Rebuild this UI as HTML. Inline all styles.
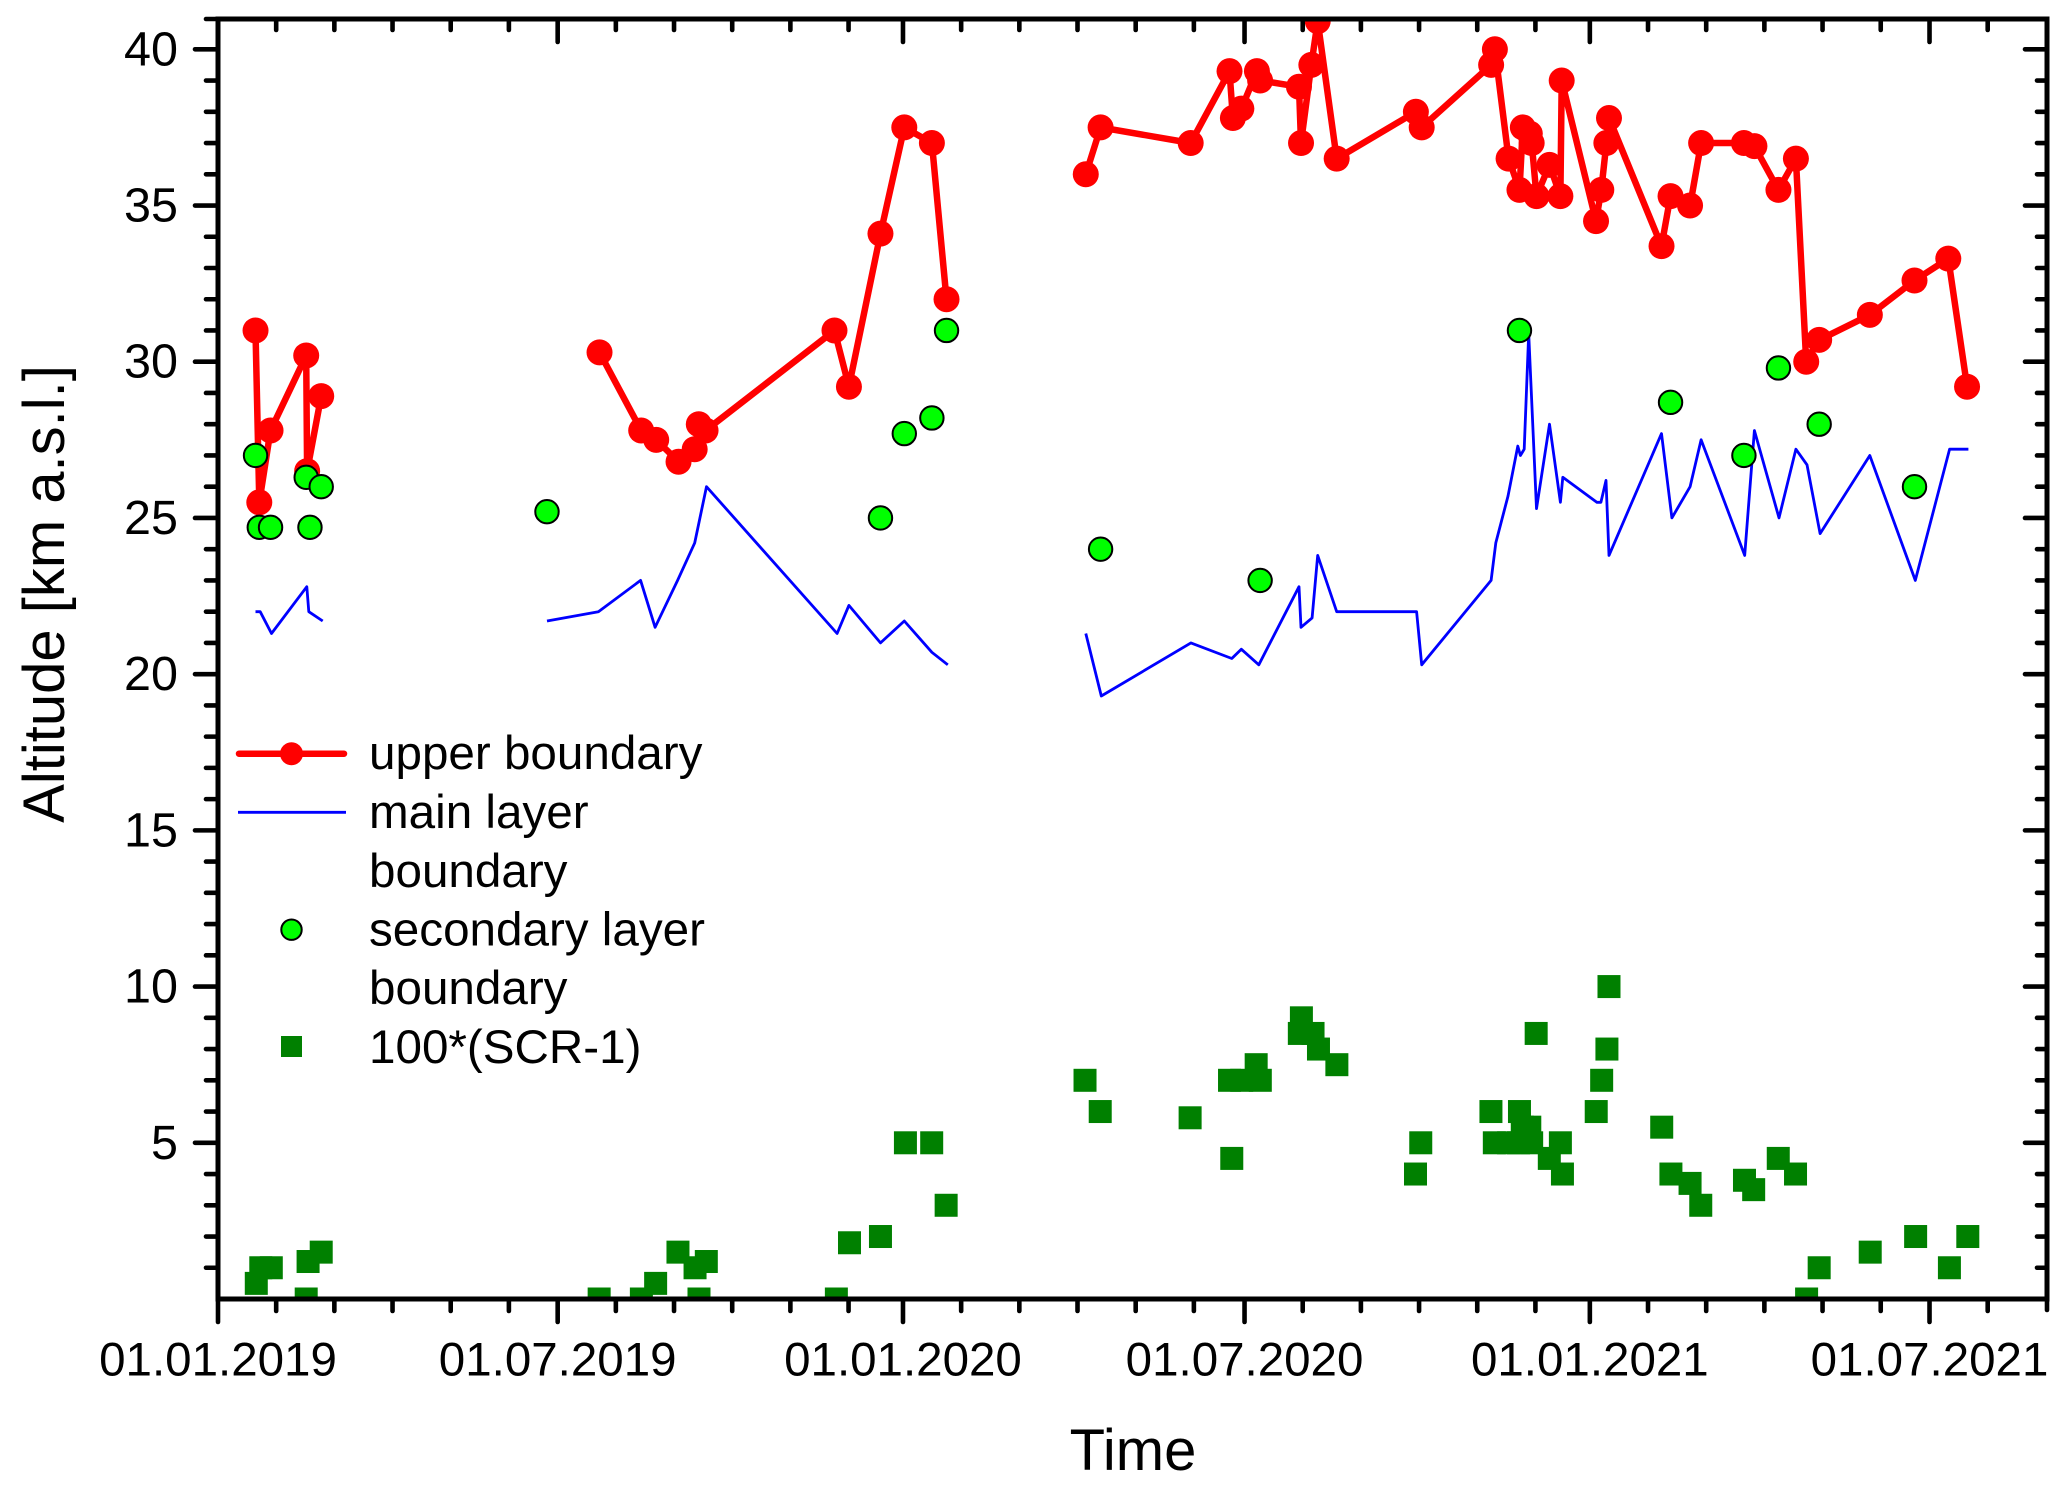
<!DOCTYPE html>
<html lang="en">
<head>
<meta charset="utf-8">
<title>Altitude over time</title>
<style>
html,body{margin:0;padding:0;background:#fff;}
svg{display:block;}
text{font-family:"Liberation Sans",Arial,sans-serif;fill:#000;}
</style>
</head>
<body>
<svg id="chart" xmlns="http://www.w3.org/2000/svg" width="2067" height="1488" viewBox="0 0 2067 1488">
  <defs>
    <clipPath id="plot-clip"><rect x="218" y="19" width="1829" height="1280"/></clipPath>
  </defs>
  <g id="series" clip-path="url(#plot-clip)"></g>
  <g id="axes"></g>
  <text transform="translate(64,594) rotate(-90)" text-anchor="middle" font-size="58">Altitude [km a.s.l.]</text>
  <text x="1133" y="1470" text-anchor="middle" font-size="58">Time</text>
  <g>
    <g>
      <line x1="239" y1="753.7" x2="344" y2="753.7" stroke="#ff0000" stroke-width="6.5" stroke-linecap="round"/>
      <circle cx="291.5" cy="753.7" r="11.5" fill="#ff0000"/>
      <text x="369" y="769" font-size="47.6">upper boundary</text>
    </g>
    <g>
      <line x1="238" y1="812.3" x2="346" y2="812.3" stroke="#0000ff" stroke-width="2.8"/>
      <text x="369" y="828" font-size="47.6">main layer</text>
      <text x="369" y="887" font-size="47.6">boundary</text>
    </g>
    <g>
      <circle cx="291.5" cy="929.7" r="10.2" fill="#00ff00" stroke="#000" stroke-width="2"/>
      <text x="369" y="945.7" font-size="47.6">secondary layer</text>
      <text x="369" y="1004" font-size="47.6">boundary</text>
    </g>
    <g>
      <rect x="281" y="1036" width="21" height="21" fill="#008000"/>
      <text x="369" y="1063" font-size="47.6">100*(SCR-1)</text>
    </g>
  </g>
</svg>
<script>
// Days since 01.01.2019; null separates observation campaigns.
const upperDays = [20,22,28,47,47.5,55,null,203.3,225.5,233.5,245.4,254,256.2,259.8,328.5,336.2,353,365.7,380.4,388.2,null,462.4,470.3,518.3,539,540.8,545.3,553.6,555.3,576,577.1,582.6,586,596.1,638.3,641.4,678.4,680.4,687.7,693.5,695.3,699,700,702.6,709.5,715.3,716,734.3,737.1,739.8,741.2,769.2,774,784.4,790.3,813.1,818.7,831.5,840.8,846.3,853.2,880.2,904,922,932];
const upperValues = [31,25.5,27.8,30.2,26.5,28.9,null,30.3,27.8,27.5,26.8,27.2,28,27.8,31,29.2,34.1,37.5,37,32,null,36,37.5,37,39.3,37.8,38.1,39.3,39,38.8,37,39.5,40.9,36.5,38,37.5,39.5,40,36.5,35.5,37.5,37.3,37,35.3,36.3,35.3,39,34.5,35.5,37,37.8,33.7,35.3,35,37,37,36.9,35.5,36.5,30,30.7,31.5,32.6,33.3,29.2];

const mainDays = [20,22.5,28.5,47.3,48.4,55.8,null,175.3,202.7,225.2,232.9,244.9,254,260.3,329.9,336.2,353,365.7,380.4,388.9,null,462.4,470.7,518.4,540.2,545.3,554.6,576,577.1,583,586,596.1,638.7,641.4,678.4,680.9,687.4,692.6,694,696,698.4,702.6,709.5,715.3,716.6,734.7,736.9,739.6,741.2,769.2,774.7,784.4,790.3,813.5,818.7,831.8,840.8,846.7,853.7,880.2,904.4,922.7,932.7];
const mainValues = [22,22,21.3,22.8,22,21.7,null,21.7,22,23,21.5,23,24.2,26,21.3,22.2,21,21.7,20.7,20.3,null,21.3,19.3,21,20.5,20.8,20.3,22.8,21.5,21.8,23.8,22,22,20.3,23,24.2,25.7,27.3,27,27.2,30.9,25.3,28,25.5,26.3,25.5,25.5,26.2,23.8,27.7,25,26,27.5,23.8,27.8,25,27.2,26.7,24.5,27,23,27.2,27.2];

const secondaryDays = [20,22,28,47,49,55,175.3,353,365.7,380.4,388.2,470.3,555.3,693.5,774,813.1,831.5,853.2,904];
const secondaryValues = [27,24.7,24.7,26.3,24.7,26,25.2,25,27.7,28.2,31,24,23,31,28.7,27,29.8,28,26];

const scrDays = [20.4,22.8,28.4,47,48,55,203.1,225.6,233.2,245.1,254.2,256.3,260.2,329.5,336.5,353,366.3,380.3,388,462,470.1,518,539,540.2,545.5,553.2,555.4,576.2,577.3,583.5,586.4,596.2,638.1,640.9,678.3,680.1,687.7,693.5,693,695,699,700,702.4,709.4,715.3,716.4,734.4,737.3,740.1,741.2,769.3,774.2,784.4,790.1,813.4,818.3,831.4,840.6,846.5,853.2,880.4,904.6,922.6,932.4];
const scrValues = [0.5,1,1,0,1.2,1.5,0,0,0.5,1.5,1,0,1.2,0,1.8,2,5,5,3,7,6,5.8,7,4.5,7,7.5,7,8.5,9,8.5,8,7.5,4,5,6,5,5,6,5,5.5,5.5,5,8.5,4.5,5,4,6,7,8,10,5.5,4,3.7,3,3.8,3.5,4.5,4,0,1,1.5,2,1,2];

const xMajorDays = [0,181,365,547,731,912];
const xTickLabels = ["01.01.2019","01.07.2019","01.01.2020","01.07.2020","01.01.2021","01.07.2021"];
const xDomain = [0,974.6];
const yDomain = [0,40.97];
const yMajorTicks = [5,10,15,20,25,30,35,40];
const yTickLabels = ["5","10","15","20","25","30","35","40"];

const SVGNS = "http://www.w3.org/2000/svg";
const PL = 218, PR = 2047, PT = 19, PB = 1299;
function xScale(d){ return PL + (d - xDomain[0]) * (1829 / (xDomain[1] - xDomain[0])); }
function yScale(v){ return PB - (v - yDomain[0]) * (1280 / (yDomain[1] - yDomain[0])); }
function mk(tag, attrs, parent){
  const el = document.createElementNS(SVGNS, tag);
  for (const k in attrs) el.setAttribute(k, attrs[k]);
  parent.appendChild(el);
  return el;
}
const seriesG = document.getElementById("series");
const axesG = document.getElementById("axes");

function drawLine(days, vals, color, width, name){
  let seg = [];
  const flush = () => {
    if (seg.length) {
      const el = mk("polyline", {points: seg.join(" "), fill: "none", stroke: color, "stroke-width": width, "stroke-linejoin": "round"}, seriesG);
      
      
    }
    seg = [];
  };
  days.forEach((d, i) => {
    if (d === null || vals[i] === null) flush();
    else seg.push(xScale(d).toFixed(1) + "," + yScale(vals[i]).toFixed(1));
  });
  flush();
}

drawLine(upperDays, upperValues, "#ff0000", 6.5, "upper-boundary-line");
upperDays.forEach((d, i) => {
  if (d === null) return;
  const el = mk("circle", {cx: xScale(d), cy: yScale(upperValues[i]), r: 13, fill: "#ff0000"}, seriesG);
  
  
});
drawLine(mainDays, mainValues, "#0000ff", 2.8, "main-layer-boundary-line");
secondaryDays.forEach((d, i) => {
  const el = mk("circle", {cx: xScale(d), cy: yScale(secondaryValues[i]), r: 11.7, fill: "#00ff00", stroke: "#000", "stroke-width": 2}, seriesG);
  
  
});
scrDays.forEach((d, i) => {
  const el = mk("rect", {x: xScale(d) - 11.5, y: yScale(scrValues[i]) - 11.5, width: 23, height: 23, fill: "#008000"}, seriesG);
  
  
});

function tick(x1, y1, x2, y2, name){
  const el = mk("line", {x1, y1, x2, y2, stroke: "#000", "stroke-width": 4.6, "stroke-linecap": "round"}, axesG);
  
  
}

// frame
const frame = mk("rect", {x: PL, y: PT, width: PR - PL, height: PB - PT, fill: "none", stroke: "#000", "stroke-width": 5}, axesG);



// x ticks: majors plus a minor tick every 31 days after each major
xMajorDays.forEach((d, i) => {
  const x = xScale(d);
  tick(x, PB, x, PB + 23, "x-major-tick");
  tick(x, PT, x, PT + 23, "x-major-tick-top");
  const next = i + 1 < xMajorDays.length ? xMajorDays[i + 1] : xDomain[1] + 0.1;
  for (let m = d + 31; m < next - 5; m += 31) {
    const mx = xScale(m);
    tick(mx, PB, mx, PB + 12, "x-minor-tick");
    tick(mx, PT, mx, PT + 11, "x-minor-tick-top");
  }
  const lab = mk("text", {x: x, y: 1375.5, "text-anchor": "middle", "font-size": 47.5}, axesG);
  lab.textContent = xTickLabels[i];
  
  
});
tick(PR, PB, PR, PB + 11, "x-minor-tick");

// y ticks
for (let v = 1; v <= 41; v++) {
  const y = yScale(v);
  if (v % 5 === 0) {
    tick(PL - 23, y, PL, y, "y-major-tick");
    tick(PR - 22, y, PR, y, "y-major-tick-right");
  } else if (v < 41) {
    tick(PL - 12, y, PL, y, "y-minor-tick");
    tick(PR - 10, y, PR, y, "y-minor-tick-right");
  } else {
    tick(PL - 12, PT, PL, PT, "y-minor-tick");
  }
}
yMajorTicks.forEach((v, i) => {
  const lab = mk("text", {x: 178, y: yScale(v) + 16, "text-anchor": "end", "font-size": 48.5}, axesG);
  lab.textContent = yTickLabels[i];
  
  
});
</script>
</body>
</html>
